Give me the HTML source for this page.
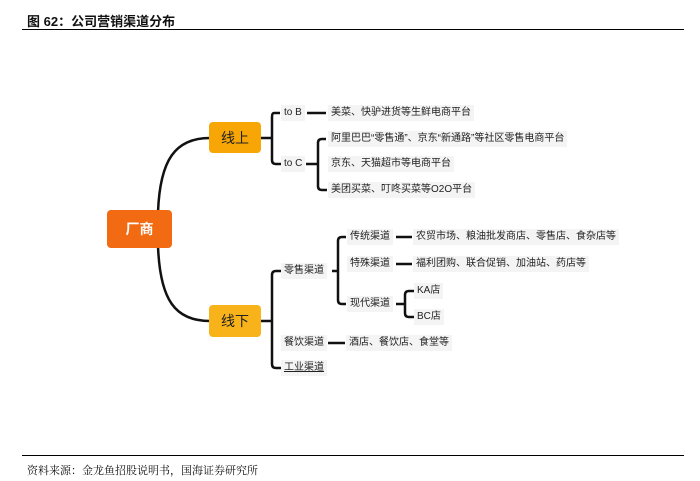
<!DOCTYPE html>
<html><head><meta charset="utf-8"><style>
body{margin:0;width:700px;height:481px;background:#fff;position:relative;overflow:hidden;font-family:"Liberation Sans","Noto Sans CJK SC",sans-serif;}
.t{position:absolute;font-size:10px;color:#222;background:#f4f4f4;padding:1px 3px;line-height:14px;white-space:nowrap;transform:translateY(-50%);}
.b{position:absolute;display:flex;align-items:center;justify-content:center;border-radius:4px;}
</style></head><body>
<div style="position:absolute;left:27px;top:11px;font-size:13px;font-weight:bold;color:#111;">图 62：公司营销渠道分布</div>
<div style="position:absolute;left:22px;top:29px;width:662px;height:1px;background:#000"></div>
<svg width="700" height="481" style="position:absolute;left:0;top:0" fill="none" stroke="#111" stroke-width="2.5">
<path d="M158 212 C160 160,175 138,210 138"/>
<path d="M158 246 C160 300,175 321,210 321"/>
<path d="M261 138 H272 M280 113 H274 Q272 113 272 117 V160 Q272 164 276 164 H281"/>
<path d="M307 113 H326"/>
<path d="M306 164 H318 M326 139 H322 Q318 139 318 143 V186 Q318 190 322 190 H327"/>
<path d="M261 321 H272 M281 271 H276 Q272 271 272 275 V364 Q272 368 276 368 H281"/>
<path d="M332 271 H338 M346 237 H342 Q338 237 338 241 V300 Q338 304 342 304 H346"/>
<path d="M396 237 H412 M396 264 H412"/>
<path d="M396 304 H405 M414 291 H409 Q405 291 405 295 V313 Q405 317 409 317 H414"/>
<path d="M328 343 H345"/>
</svg>
<div class="b" style="left:107px;top:210px;width:65px;height:38px;background:#f26a12;color:#fff;font-size:14px;font-weight:bold;">厂商</div>
<div class="b" style="left:209px;top:122px;width:52px;height:31px;background:#f8a506;color:#222;font-size:14px;">线上</div>
<div class="b" style="left:209px;top:305px;width:52px;height:32px;background:#f8b21a;color:#222;font-size:14px;">线下</div>
<div class="t" style="left:281px;top:113px">to B</div>
<div class="t" style="left:281px;top:164px">to C</div>
<div class="t" style="left:328px;top:113px">美菜、快驴进货等生鲜电商平台</div>
<div class="t" style="left:328px;top:139px">阿里巴巴“零售通”、京东“新通路”等社区零售电商平台</div>
<div class="t" style="left:328px;top:164px">京东、天猫超市等电商平台</div>
<div class="t" style="left:328px;top:190px">美团买菜、叮咚买菜等O2O平台</div>
<div class="t" style="left:281px;top:271px">零售渠道</div>
<div class="t" style="left:281px;top:343px">餐饮渠道</div>
<div class="t" style="left:281px;top:368px;text-decoration:underline">工业渠道</div>
<div class="t" style="left:347px;top:237px">传统渠道</div>
<div class="t" style="left:347px;top:264px">特殊渠道</div>
<div class="t" style="left:347px;top:304px">现代渠道</div>
<div class="t" style="left:413px;top:237px">农贸市场、粮油批发商店、零售店、食杂店等</div>
<div class="t" style="left:413px;top:264px">福利团购、联合促销、加油站、药店等</div>
<div class="t" style="left:414px;top:291px">KA店</div>
<div class="t" style="left:414px;top:317px">BC店</div>
<div class="t" style="left:346px;top:343px">酒店、餐饮店、食堂等</div>
<div style="position:absolute;left:22px;top:455px;width:662px;height:1px;background:#000"></div>
<div style="position:absolute;left:27px;top:462px;font-size:11px;color:#111;font-family:'Noto Serif CJK SC','Liberation Serif',serif;">资料来源：金龙鱼招股说明书，国海证券研究所</div>
</body></html>
